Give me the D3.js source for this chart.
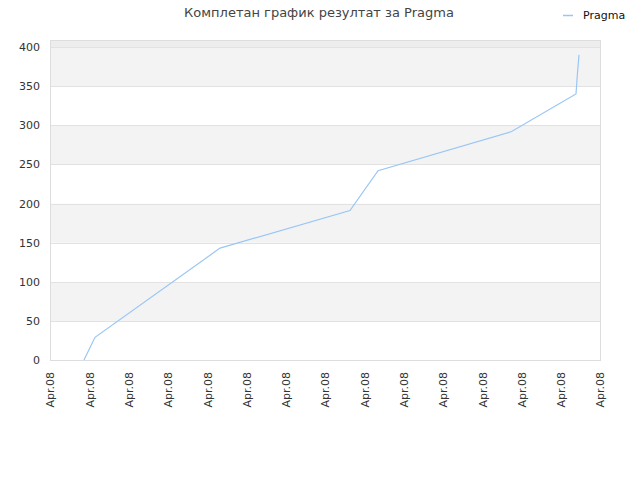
<!DOCTYPE html>
<html>
<head>
<meta charset="utf-8">
<script src="https://cdn.jsdelivr.net/npm/d3@7"></script>
<style>
  body { margin: 0; background: #fff; }
  svg { font-family: "DejaVu Sans", sans-serif; }
</style>
</head>
<body>
<div id="chart"></div>
<script>
// datos de la serie
const fechas = ["2008-04-02T17:30", "2008-04-03T07:00", "2008-04-09T15:45", "2008-04-16T06:30",
                "2008-04-17T16:50", "2008-04-24T12:00", "2008-04-27T18:40", "2008-04-27T20:20",
                "2008-04-27T22:20"]
const valores = [0, 29, 143, 191, 242, 292, 340, 365, 390]
const serie = "Pragma"
const titulo = "Комплетан график резултат за Pragma"
const yTicks = [0, 50, 100, 150, 200, 250, 300, 350, 400]
const dominioX = ["2008-04-01T00:00", "2008-04-29T00:00"]

const width = 640, height = 480
const margin = {top: 40, right: 40, bottom: 120, left: 50}
const parse = d3.utcParse("%Y-%m-%dT%H:%M")

const svg = d3.select("#chart").append("svg")
  .attr("width", width).attr("height", height)

const x = d3.scaleUtc()
  .domain(dominioX.map(parse))
  .range([margin.left, width - margin.right])

const y = d3.scaleLinear()
  .domain([0, 409])
  .range([height - margin.bottom, margin.top])

// bandas alternas
const bandas = d3.range(0, 450, 50).map(v => ({desde: v, hasta: Math.min(v + 50, 409)}))
svg.append("g").selectAll("rect")
  .data(bandas)
  .enter().append("rect")
  .attr("x", margin.left)
  .attr("width", width - margin.right - margin.left)
  .attr("y", d => y(d.hasta))
  .attr("height", d => y(d.desde) - y(d.hasta))
  .attr("fill", d => d.desde >= 400 ? "#ededed" : ((d.desde / 50) % 2 === 1 ? "#f3f3f3" : "#ffffff"))

// lineas de la grilla
svg.append("g").selectAll("line")
  .data(yTicks)
  .enter().append("line")
  .attr("x1", margin.left).attr("x2", width - margin.right)
  .attr("y1", d => Math.round(y(d)) + 0.5).attr("y2", d => Math.round(y(d)) + 0.5)
  .attr("stroke", "#e2e2e2")

// marco
svg.append("rect")
  .attr("x", margin.left + 0.5).attr("y", margin.top + 0.5)
  .attr("width", width - margin.right - margin.left)
  .attr("height", height - margin.bottom - margin.top)
  .attr("fill", "none").attr("stroke", "#dddddd")

// eje y
const ejeY = svg.append("g")
  .attr("transform", `translate(${margin.left}, 0)`)
  .call(d3.axisLeft(y).tickValues(yTicks).tickSize(0).tickPadding(10))
ejeY.select(".domain").remove()
ejeY.selectAll("text").attr("font-size", 11).attr("fill", "#333").attr("font-family", "DejaVu Sans, sans-serif")

// eje x
const ejeX = svg.append("g")
  .attr("transform", `translate(0, ${height - margin.bottom})`)
  .call(d3.axisBottom(x).ticks(d3.utcDay.every(2)).tickFormat(d3.utcFormat("%b.%y")).tickSize(0))
ejeX.select(".domain").remove()
ejeX.selectAll("text")
  .attr("font-size", 11).attr("fill", "#333").attr("font-family", "DejaVu Sans, sans-serif")
  .attr("text-anchor", "end")
  .attr("transform", "rotate(-90)")
  .attr("x", -12).attr("y", 0).attr("dy", "0.35em")

// linea de la serie
const datos = fechas.map((f, i) => ({fecha: parse(f), valor: valores[i]}))
svg.append("path")
  .datum(datos)
  .attr("fill", "none")
  .attr("stroke", "#99c6f5")
  .attr("stroke-width", 1.2)
  .attr("d", d3.line().x(d => x(d.fecha)).y(d => y(d.valor)))

// titulo
svg.append("text")
  .attr("x", 319).attr("y", 17)
  .attr("text-anchor", "middle")
  .attr("font-size", 13).attr("fill", "#444")
  .text(titulo)

// leyenda
svg.append("line")
  .attr("x1", 563).attr("x2", 573).attr("y1", 15.5).attr("y2", 15.5)
  .attr("stroke", "#99c6f5").attr("stroke-width", 1.5)
svg.append("text")
  .attr("x", 583).attr("y", 19)
  .attr("font-size", 11).attr("fill", "#111")
  .text(serie)
</script>
</body>
</html>
